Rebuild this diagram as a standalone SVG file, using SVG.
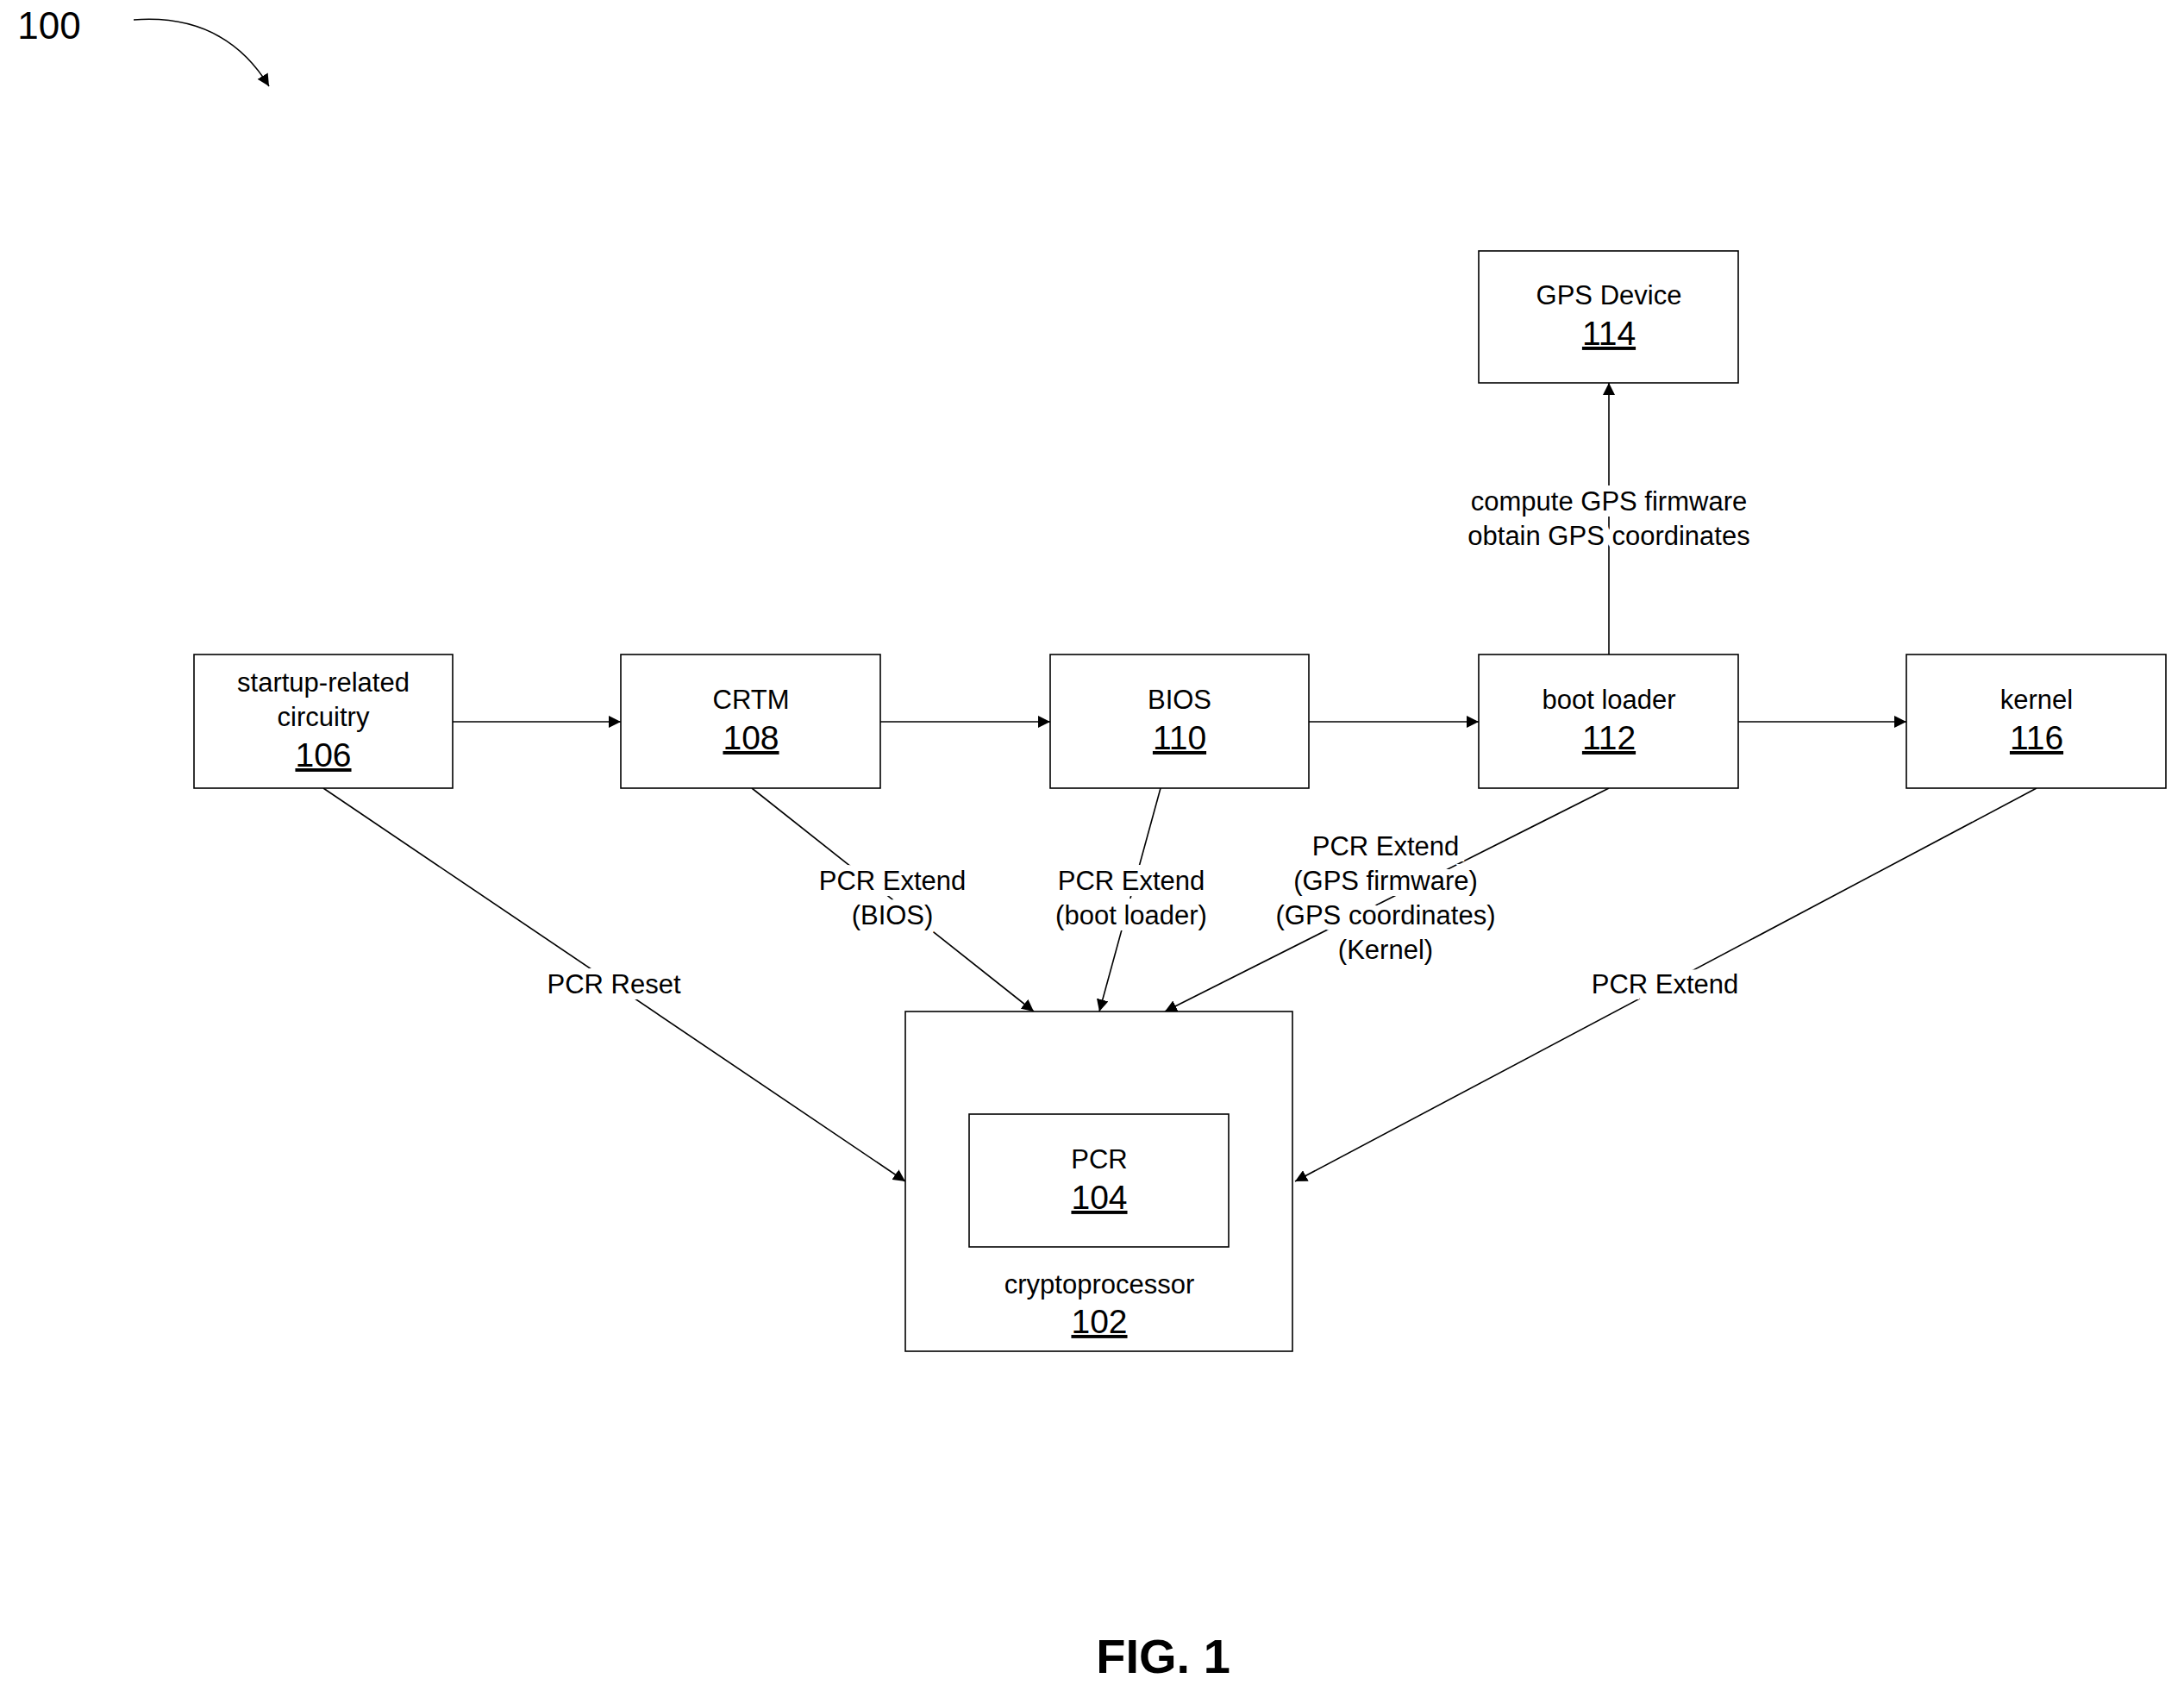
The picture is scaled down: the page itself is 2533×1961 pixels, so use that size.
<svg xmlns="http://www.w3.org/2000/svg" width="2533" height="1961" viewBox="0 0 2533 1961">
<style>
text{font-family:"Liberation Sans",Arial,sans-serif;fill:#000;text-anchor:middle}
.t{font-size:31px}
.n{font-size:39px;text-decoration:underline}
.b{fill:#fff;stroke:#000;stroke-width:1.6}
.c{stroke:#000;stroke-width:1.6;fill:none;marker-end:url(#a)}
.l{font-size:31px;paint-order:stroke;stroke:#fff;stroke-width:14px}
</style>
<defs><marker id="a" viewBox="0 0 10 10" refX="10" refY="5" markerWidth="14" markerHeight="14" markerUnits="userSpaceOnUse" orient="auto"><path d="M0,0L10,5L0,10z" fill="#000"/></marker></defs>
<rect width="2533" height="1961" fill="#fff"/>
<g id="connectors">
<line class="c" x1="525" y1="837" x2="720" y2="837"/>
<line class="c" x1="1021" y1="837" x2="1218" y2="837"/>
<line class="c" x1="1518" y1="837" x2="1715" y2="837"/>
<line class="c" x1="2016" y1="837" x2="2211" y2="837"/>
<line class="c" x1="1866" y1="759" x2="1866" y2="444"/>
<line class="c" x1="375" y1="914" x2="1050" y2="1370"/>
<line class="c" x1="872" y1="914" x2="1199" y2="1173"/>
<line class="c" x1="1346" y1="914" x2="1275" y2="1173"/>
<line class="c" x1="1866" y1="914" x2="1351" y2="1173"/>
<line class="c" x1="2362" y1="914" x2="1502" y2="1370"/>
<text class="l"><tspan x="1866" y="592">compute GPS firmware</tspan><tspan x="1866" y="632">obtain GPS coordinates</tspan></text>
<text class="l" x="712" y="1152">PCR Reset</text>
<text class="l"><tspan x="1035" y="1032">PCR Extend</tspan><tspan x="1035" y="1072">(BIOS)</tspan></text>
<text class="l"><tspan x="1312" y="1032">PCR Extend</tspan><tspan x="1312" y="1072">(boot loader)</tspan></text>
<text class="l"><tspan x="1607" y="992">PCR Extend</tspan><tspan x="1607" y="1032">(GPS firmware)</tspan><tspan x="1607" y="1072">(GPS coordinates)</tspan><tspan x="1607" y="1112">(Kernel)</tspan></text>
<text class="l" x="1931" y="1152">PCR Extend</text>
<path class="c" d="M155,23 Q260,15 312,100"/>
</g>
<g id="n106"><rect class="b" x="225" y="759" width="300" height="155"/><text class="t" x="375" y="802">startup-related</text><text class="t" x="375" y="842">circuitry</text><text class="n" x="375" y="889">106</text></g>
<g id="n108"><rect class="b" x="720" y="759" width="301" height="155"/><text class="t" x="871" y="822">CRTM</text><text class="n" x="871" y="869">108</text></g>
<g id="n110"><rect class="b" x="1218" y="759" width="300" height="155"/><text class="t" x="1368" y="822">BIOS</text><text class="n" x="1368" y="869">110</text></g>
<g id="n112"><rect class="b" x="1715" y="759" width="301" height="155"/><text class="t" x="1866" y="822">boot loader</text><text class="n" x="1866" y="869">112</text></g>
<g id="n116"><rect class="b" x="2211" y="759" width="301" height="155"/><text class="t" x="2362" y="822">kernel</text><text class="n" x="2362" y="869">116</text></g>
<g id="n114"><rect class="b" x="1715" y="291" width="301" height="153"/><text class="t" x="1866" y="353">GPS Device</text><text class="n" x="1866" y="400">114</text></g>
<g id="n102"><rect class="b" x="1050" y="1173" width="449" height="394"/><text class="t" x="1275" y="1500">cryptoprocessor</text><text class="n" x="1275" y="1546">102</text></g>
<g id="n104"><rect class="b" x="1124" y="1292" width="301" height="154"/><text class="t" x="1275" y="1355">PCR</text><text class="n" x="1275" y="1402">104</text></g>
<text x="57" y="45" style="font-size:44px">100</text>
<text x="1349" y="1940" style="font-size:56px;font-weight:bold">FIG. 1</text>
</svg>
